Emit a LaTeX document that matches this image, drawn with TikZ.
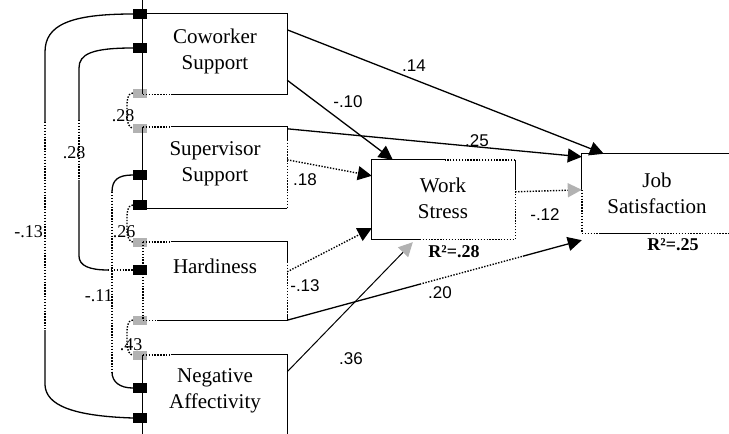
\documentclass[tikz,border=0pt]{standalone}
\usepackage{fontspec}
\setmainfont{Liberation Serif}
\newfontfamily\boxserif{Liberation Serif}
\newfontfamily\lblsans{Liberation Sans}
\usetikzlibrary{arrows.meta,calc}

\begin{document}
\begin{tikzpicture}[x=1pt,y=-1pt,
  ln/.style={line width=1.3pt},
  dl/.style={line width=1.4pt, dash pattern=on 1.4pt off 1.5pt},
  box/.style={rectangle, inner sep=0pt, minimum width=144pt, minimum height=80pt},
  boxtext/.style={font=\boxserif\fontsize{21}{26}\selectfont, align=center, inner sep=0pt},
  coef/.style={font=\lblsans\fontsize{17}{20}\selectfont, inner sep=0pt},
  corr/.style={font=\boxserif\fontsize{18}{20}\selectfont, inner sep=0pt},
  rsq/.style={font=\boxserif\bfseries\fontsize{18}{20}\selectfont, inner sep=0pt},
  blk/.style={rectangle, fill=black, minimum width=14pt, minimum height=10pt, inner sep=0pt},
  hat/.style={rectangle, fill=gray!60, minimum width=14pt, minimum height=9pt, inner sep=0pt},
  tip/.style={-{Triangle[length=14pt,width=14pt]}},
  htip/.style={-{Triangle[length=14pt,width=14pt,fill=gray!60,color=gray!60]}},
]
\fill[white] (0,0) rectangle (729,434);
\useasboundingbox (0,0) rectangle (729,434);

% construct boxes
\node[box] (cw) at (215,54) {};
\node[box, minimum height=81pt] (sv) at (215,167.5) {};
\node[box, minimum height=78pt] (hd) at (215,281) {};
\node[box] (na) at (215,395) {};
\node[box, minimum width=143pt, minimum height=79pt] (ws) at (443.5,199.5) {};
\node[box, minimum width=150pt, minimum height=79pt] (js) at (657,193.5) {};

% box captions
\node[boxtext] (cwt) at (215,51) {Coworker\\Support};
\node[boxtext] (svt) at (215,164) {Supervisor\\Support};
\node[boxtext] (hdt) at (215,266) {Hardiness};
\node[boxtext] (nat) at (215,391) {Negative\\Affectivity};
\node[boxtext] (wst) at (443,198) {Work\\Stress};
\node[boxtext] (jst) at (657,193) {Job\\Satisfaction};

% covariance end markers
\node[blk] (m1) at (140,14) {};
\node[blk] (m2) at (140,48) {};
\node[hat] (h1) at (140,93) {};
\node[hat] (h2) at (140,128) {};
\node[blk] (m3) at (140,175) {};
\node[blk] (m4) at (140,205) {};
\node[hat] (h3) at (140,242) {};
\node[blk] (m5) at (140,270) {};
\node[hat] (h4) at (140,320) {};
\node[hat] (h5) at (140,355) {};
\node[blk] (m6) at (140,388) {};
\node[blk] (m7) at (140,418) {};

% long covariance curves
\coordinate (p1a) at (45,122); \coordinate (p1b) at (45,330);
\draw[ln] (m1.west) .. controls (70,14) and (45,25) .. (45,52) -- (p1a);
\draw[dl] (p1a) -- (p1b);
\draw[ln] (p1b) -- (45,385) .. controls (46,405) and (72,416) .. (m7.west);

\coordinate (p2a) at (79,120); \coordinate (p2b) at (79,180); \coordinate (p2c) at (108,270);
\draw[ln] (m2.west) .. controls (92,48) and (79,54) .. (79,68) -- (p2a);
\draw[dl] (p2a) -- (p2b);
\draw[ln] (p2b) -- (79,256) .. controls (79,266) and (90,270) .. (p2c);
\draw[dl] (p2c) -- (m5.west);

\coordinate (p3a) at (112,192); \coordinate (p3b) at (112,372);
\draw[ln] (m3.west) .. controls (118,175) and (112,180) .. (p3a);
\draw[dl] (p3a) -- (p3b);
\draw[ln] (p3b) .. controls (112,382) and (120,388) .. (m6.west);

% short covariance curves between neighbours
\draw[dl] (h1.west) .. controls (127,94) and (127,100) .. (127,108) -- (127,116) .. controls (127,124) and (130,128) .. (h2.west);
\draw[dl] (m4.west) .. controls (127,206) and (127,212) .. (127,220) -- (127,230) .. controls (127,238) and (130,242) .. (h3.west);
\draw[dl] (h4.west) .. controls (127,321) and (127,327) .. (127,335) -- (127,343) .. controls (127,351) and (130,355) .. (h5.west);

% box outlines
\draw[ln] (cw.north west) -- ++(0,-14);
\draw[ln] (cw.south west) -- (cw.north west) -- (cw.north east) -- (cw.south east) -- ($(cw.south west)+(28,0)$);
\draw[dl] (cw.south west) -- ($(cw.south west)+(28,0)$);

\draw[dl] (sv.north west) -- ($(sv.north west)+(28,0)$);
\draw[ln] ($(sv.north west)+(28,0)$) -- (sv.north east) -- ($(sv.north east)+(0,13)$);
\draw[dl] ($(sv.north east)+(0,13)$) -- (sv.south east);
\draw[ln] (sv.south east) -- (sv.south west) -- (sv.north west);

\draw[dl] (hd.north west) -- ($(hd.north west)+(28,0)$);
\draw[ln] ($(hd.north west)+(28,0)$) -- (hd.north east) -- ($(hd.north east)+(0,20)$);
\draw[dl] ($(hd.north east)+(0,20)$) -- ($(hd.south east)+(0,-5)$);
\draw[ln] ($(hd.south east)+(0,-5)$) -- (hd.south east) -- ($(hd.south west)+(16,0)$);
\draw[dl] ($(hd.south west)+(16,0)$) -- (hd.south west) -- (hd.north west);

\draw[dl] (na.north west) -- ($(na.north west)+(28,0)$);
\draw[ln] ($(na.north west)+(28,0)$) -- (na.north east) -- (na.south east) -- (na.south west) -- (na.north west);

\draw[ln] ($(ws.north west)+(73,0)$) -- (ws.north west) -- (ws.south west) -- ($(ws.south west)+(48,0)$);
\draw[dl] ($(ws.south west)+(48,0)$) -- (ws.south east) -- ($(ws.north east)+(0,30)$);
\draw[ln] ($(ws.north east)+(0,30)$) -- (ws.north east);
\draw[dl] (ws.north east) -- ($(ws.north west)+(73,0)$);

\draw[ln] ($(js.north west)+(0,36)$) -- (js.north west) -- (js.north east);
\draw[dl] ($(js.north west)+(0,36)$) -- (js.south west) -- ($(js.south west)+(18,0)$);
\draw[ln] ($(js.south west)+(18,0)$) -- ($(js.south west)+(68,0)$);
\draw[dl] ($(js.south west)+(68,0)$) -- (js.south east);

% structural paths
\draw[ln,tip] ($(cw.north east)+(0,16)$) -- ($(js.north west)+(22,0)$);
\draw[ln,tip] ($(cw.south east)+(0,-14)$) -- ($(ws.north west)+(21,0)$);
\draw[ln,tip] ($(sv.north east)+(0,2)$) -- ($(js.north west)+(0,3)$);
\draw[dl,tip] ($(sv.north east)+(0,33)$) -- ($(ws.north west)+(0,16)$);
\draw[dl,htip] ($(ws.north east)+(0,32)$) -- ($(js.north west)+(0,36)$);
\draw[dl,tip] ($(hd.north east)+(0,30)$) -- ($(ws.south west)+(0,-11)$);
\coordinate (gEnd) at ($(js.south west)+(0,7)$);
\draw[ln] (hd.south east) -- ($(hd.south east)!0.45!(gEnd)$);
\draw[dl] ($(hd.south east)!0.45!(gEnd)$) -- ($(hd.south east)!0.8!(gEnd)$);
\draw[ln,tip] ($(hd.south east)!0.8!(gEnd)$) -- (gEnd);
\draw[line width=1pt,htip] ($(na.north east)+(0,17)$) -- ($(ws.south west)+(41,3)$);

% path coefficients
\node[coef] (k1) at (414,66) {.14};
\node[coef] (k2) at (348,102) {-.10};
\node[coef] (k3) at (477,141) {.25};
\node[coef] (k4) at (305,180) {.18};
\node[coef] (k5) at (545,215) {-.12};
\node[coef] (k6) at (305,286) {-.13};
\node[coef] (k7) at (440,293) {.20};
\node[coef] (k8) at (351,359) {.36};

% correlations
\node[corr, anchor=east] (r1) at (43,232) {-.13};
\node[corr] (r2) at (74,153) {.28};
\node[corr, anchor=east] (r3) at (113,296) {-.11};
\node[corr] (r4) at (123,116) {.28};
\node[corr] (r5) at (124,232) {.26};
\node[corr] (r6) at (131,345) {.43};

% explained variance
\node[rsq] (q1) at (454,252) {R²=.28};
\node[rsq] (q2) at (673,245) {R²=.25};
\end{tikzpicture}
\end{document}
